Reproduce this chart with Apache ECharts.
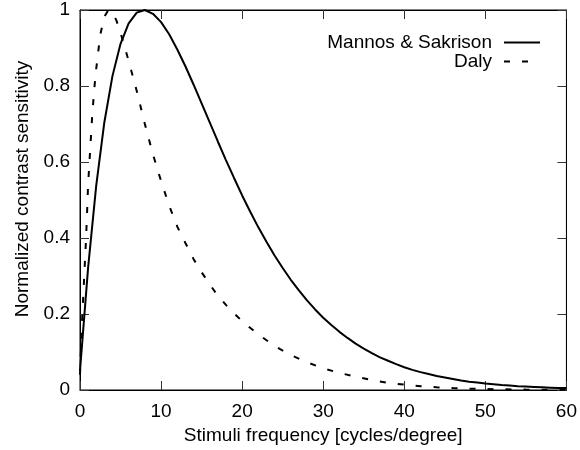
<!DOCTYPE html>
<html>
<head>
<meta charset="utf-8">
<script src="https://cdn.jsdelivr.net/npm/echarts@6/dist/echarts.min.js"></script>
<style>
html,body{margin:0;padding:0;background:#fff;}
#c{width:580px;height:450px;}
</style>
</head>
<body>
<div id="c"></div>
<script>
// Data
var xTicks = [0, 10, 20, 30, 40, 50, 60];
var yTicks = [0, 0.2, 0.4, 0.6, 0.8, 1];

var mannosFreq = [0,1,2,3,4,5,6,7,8,9,10,11,12,13,14,15,16,17,18,19,20,21,22,23,24,25,26,27,28,29,30,
  31,32,33,34,35,36,37,38,39,40,41,42,43,44,45,46,47,48,49,50,51,52,53,54,55,56,57,58,59,60];
var mannosVal = [0.051,0.322,0.538,0.704,0.826,0.911,0.965,0.993,1.000,0.990,0.968,0.936,0.896,0.852,0.804,
  0.754,0.704,0.654,0.605,0.558,0.512,0.469,0.428,0.390,0.354,0.321,0.290,0.262,0.236,0.212,0.190,
  0.171,0.153,0.137,0.122,0.109,0.097,0.086,0.077,0.068,0.060,0.053,0.047,0.042,0.037,0.033,0.029,
  0.025,0.022,0.020,0.017,0.015,0.013,0.012,0.010,0.009,0.008,0.007,0.006,0.005,0.005];

var dalyFreq = [0,0.25,0.5,0.75,1,1.25,1.5,1.75,2,2.5,3,3.5,4,4.5,5,6,7,8,9,10,11,12,13,14,15,16,17,18,19,20,
  22,24,26,28,30,32,34,36,38,40,42,44,46,48,50,52,55,60];
var dalyVal = [0.04,0.18,0.29,0.40,0.54,0.63,0.72,0.79,0.845,0.935,0.982,1.0,0.993,0.972,0.94,0.866,0.787,0.70,
  0.62,0.55,0.485,0.43,0.387,0.345,0.31,0.278,0.248,0.224,0.202,0.181,
  0.146,0.116,0.092,0.073,0.057,0.045,0.035,0.026,0.019,0.014,0.010,0.007,0.005,0.0035,0.0025,0.0018,0.001,0.0005];

function pairs(xs, ys){ return xs.map(function(x,i){ return [x, ys[i]]; }); }

var FONT = 'Liberation Sans';
var FS = 19;
var chart = echarts.init(document.getElementById('c'), null, {renderer:'canvas'});

var tickStyle = {show:true, inside:true, length:9, lineStyle:{color:'#333', width:1}};

chart.setOption({
  backgroundColor:'#fff',
  animation:false,
  textStyle:{fontFamily:FONT},
  grid:{left:80, right:13, top:10, bottom:60, show:true, borderColor:'#000', borderWidth:1, backgroundColor:'transparent'},
  legend:{
    orient:'vertical', right:39, top:33, padding:0, align:'right',
    itemWidth:36, itemHeight:14, itemGap:0,
    itemStyle:{opacity:0},
    textStyle:{fontFamily:FONT, fontSize:FS, color:'#000', lineHeight:14, padding:[0,7,0,0]},
    data:['Mannos & Sakrison','Daly']
  },
  xAxis:[{
    type:'value', min:xTicks[0], max:xTicks[xTicks.length-1], interval:10,
    name:'Stimuli frequency [cycles/degree]', nameLocation:'middle', nameGap:33,
    nameTextStyle:{fontFamily:FONT, fontSize:FS, color:'#000'},
    axisLine:{show:true, onZero:false, lineStyle:{color:'#000', width:1}},
    axisTick:tickStyle,
    axisLabel:{fontFamily:FONT, fontSize:FS, color:'#000', margin:12},
    splitLine:{show:false}
  },{
    type:'value', position:'top', min:xTicks[0], max:xTicks[xTicks.length-1], interval:10,
    axisLine:{show:true, onZero:false, lineStyle:{color:'#000', width:1}},
    axisTick:tickStyle, axisLabel:{show:false}, splitLine:{show:false}
  }],
  yAxis:[{
    type:'value', min:yTicks[0], max:yTicks[yTicks.length-1], interval:0.2,
    name:'Normalized contrast sensitivity', nameLocation:'middle', nameGap:48,
    nameTextStyle:{fontFamily:FONT, fontSize:FS, color:'#000', padding:[0,0,0,22]},
    axisLine:{show:true, onZero:false, lineStyle:{color:'#000', width:1}},
    axisTick:tickStyle,
    axisLabel:{fontFamily:FONT, fontSize:FS, color:'#000', margin:10},
    splitLine:{show:false}
  },{
    type:'value', position:'right', min:yTicks[0], max:yTicks[yTicks.length-1], interval:0.2,
    axisLine:{show:true, onZero:false, lineStyle:{color:'#000', width:1}},
    axisTick:tickStyle, axisLabel:{show:false}, splitLine:{show:false}
  }],
  series:[{
    name:'Mannos & Sakrison', type:'line', xAxisIndex:0, yAxisIndex:0,
    data:pairs(mannosFreq, mannosVal), showSymbol:false, symbol:'none', smooth:false,
    lineStyle:{color:'#000', width:2}, itemStyle:{color:'#000'}
  },{
    name:'Daly', type:'line', xAxisIndex:0, yAxisIndex:0,
    data:pairs(dalyFreq, dalyVal), showSymbol:false, symbol:'none', smooth:false,
    lineStyle:{color:'#000', width:2, type:[6,12]}, itemStyle:{color:'#000'}
  }]
});
</script>
</body>
</html>
